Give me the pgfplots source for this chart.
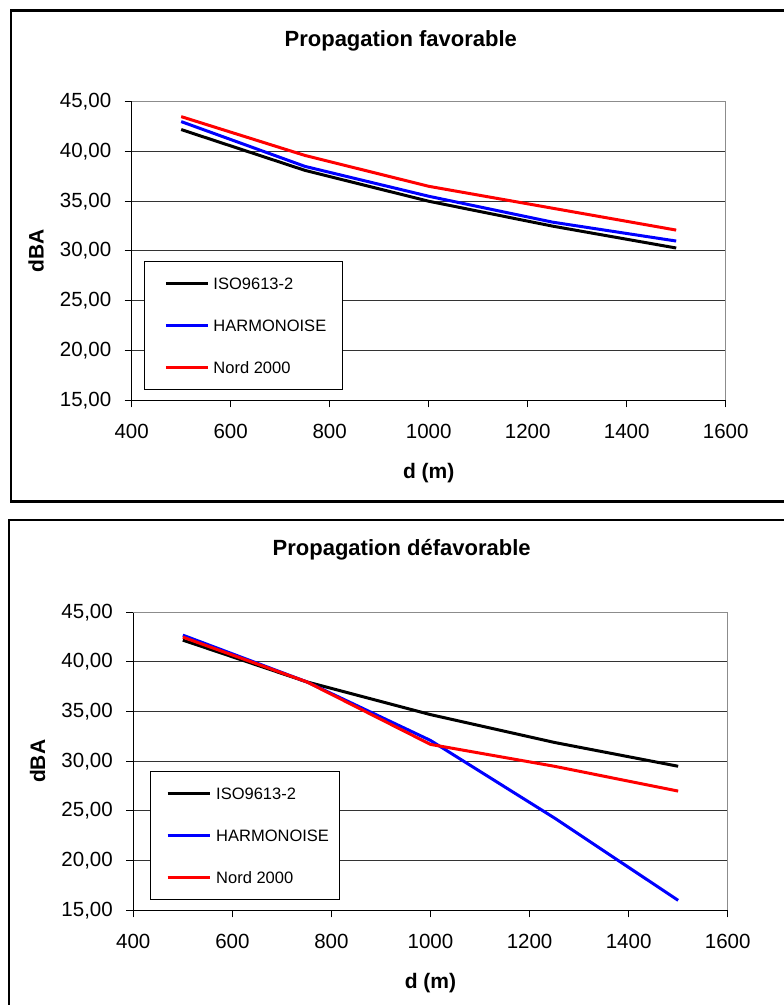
\documentclass[border=0pt]{standalone}
\usepackage{fontspec}
\setmainfont{Liberation Sans}
\usepackage{pgfplots}
\pgfplotsset{compat=1.18}

\pgfplotsset{
  excelstyle/.style={
    scale only axis,
    xmin=400, xmax=1600, ymin=15, ymax=45,
    enlargelimits=false, clip=false,
    xtick={400,600,...,1600}, ytick={15,20,...,45},
    axis lines*=left, tick align=outside, major tick length=7pt,
    axis line style={black, line width=1.2pt},
    tick style={black, line width=1pt},
    ymajorgrids, grid style={black!80, line width=1pt},
    /pgf/number format/assume math mode=true,
    xticklabel style={font=\fontsize{20.5}{24}\selectfont, yshift=-13pt, /pgf/number format/1000 sep={}},
    yticklabel style={font=\fontsize{20.5}{24}\selectfont, xshift=-10pt, /pgf/number format/.cd, fixed, fixed zerofill, precision=2, use comma, 1000 sep={}},
    xlabel={d (m)},
    xlabel style={at={(axis description cs:0.5,0)}, anchor=base, yshift=-78pt, font=\fontsize{21}{25}\selectfont\bfseries},
    ylabel={dBA},
    ylabel style={at={(axis description cs:-0.161,0.5)}, anchor=center, font=\fontsize{21}{25}\selectfont\bfseries},
    legend cell align=left,
    every axis plot/.append style={line width=3pt, line join=round},
  }
}

\begin{document}
\begin{tikzpicture}
\useasboundingbox (0pt,0pt) rectangle (784pt,1005pt);
\fill[white] (0pt,0pt) rectangle (784pt,1005pt);
% frames
\draw[black, line width=2.2pt] (800pt,994.5pt) -- (11.2pt,994.5pt) -- (11.2pt,503.5pt) -- (800pt,503.5pt);
\draw[black, line width=2.2pt] (800pt,485pt) -- (9.3pt,485pt) -- (9.3pt,-20pt);

\begin{axis}[excelstyle,
  at={(131.7pt,604.7pt)}, anchor=south west,
  width=594pt, height=298.6pt,
  title={Propagation favorable},
  title style={at={(axis description cs:0.453,1)}, anchor=base, yshift=49pt, font=\fontsize{22}{26}\selectfont\bfseries},
  legend image code/.code={\path (0pt,0pt); \draw[#1] (4pt,0pt) -- (46pt,0pt);},
  legend style={at={(axis description cs:0.0207,0.4665)}, anchor=north west, draw=black, line width=1pt, fill=white,
    font=\fontsize{16.5}{20}\selectfont, inner xsep=16pt, inner ysep=16pt, row sep=29.8pt, column sep=4pt,
    nodes={inner sep=0pt, text height=12.2pt, text depth=0pt}},
]
\draw[black!45, line width=1.2pt] (rel axis cs:0,1) -- (rel axis cs:1,1) -- (rel axis cs:1,0);
\addplot[black] coordinates {(500,42.2) (750,38.1) (1000,35.0) (1250,32.5) (1500,30.3)};
\addlegendentry{ISO9613-2}
\addplot[blue] coordinates {(500,43.0) (750,38.5) (1000,35.5) (1250,32.9) (1500,31.0)};
\addlegendentry{HARMONOISE}
\addplot[red] coordinates {(500,43.5) (750,39.6) (1000,36.5) (1250,34.3) (1500,32.1)};
\addlegendentry{Nord 2000}
\end{axis}

\begin{axis}[excelstyle,
  at={(133.3pt,94.7pt)}, anchor=south west,
  width=594.4pt, height=298pt,
  title={Propagation défavorable},
  title style={at={(axis description cs:0.4515,1)}, anchor=base, yshift=50.6pt, font=\fontsize{22}{26}\selectfont\bfseries},
  legend image code/.code={\path (0pt,0pt); \draw[#1] (5pt,0pt) -- (47pt,0pt);},
  legend style={at={(axis description cs:0.0276,0.4685)}, anchor=north west, draw=black, line width=1pt, fill=white,
    font=\fontsize{16.5}{20}\selectfont, inner xsep=11pt, inner ysep=16pt, row sep=29.8pt, column sep=5pt,
    nodes={inner sep=0pt, text height=12.2pt, text depth=0pt}},
]
\draw[black!45, line width=1.2pt] (rel axis cs:0,1) -- (rel axis cs:1,1) -- (rel axis cs:1,0);
\addplot[black] coordinates {(500,42.2) (750,38.0) (1000,34.7) (1250,31.9) (1500,29.5)};
\addlegendentry{ISO9613-2}
\addplot[blue] coordinates {(500,42.7) (750,38.0) (1000,32.1) (1250,24.3) (1500,16.0)};
\addlegendentry{HARMONOISE}
\addplot[red] coordinates {(500,42.5) (750,38.0) (1000,31.7) (1250,29.5) (1500,27.0)};
\addlegendentry{Nord 2000}
\end{axis}
\end{tikzpicture}
\end{document}
